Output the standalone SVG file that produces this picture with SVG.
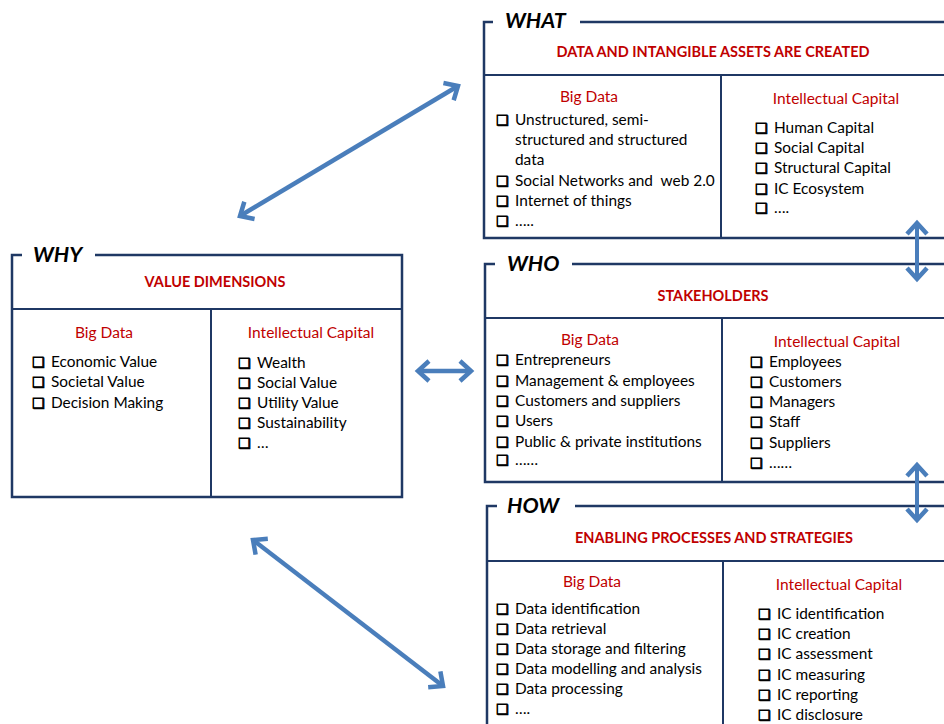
<svg xmlns="http://www.w3.org/2000/svg" width="944" height="724" viewBox="0 0 944 724">
<style>
.frame{fill:none;stroke:#1F3864;stroke-width:2.5}
.div{fill:none;stroke:#1F3864;stroke-width:2}
.lbl{font-family:Lato,"Liberation Sans",sans-serif;font-weight:bold;font-style:italic;font-size:21.5px;fill:#000}
.hdr{font-family:Lato,"Liberation Sans",sans-serif;font-weight:bold;font-size:14.5px;fill:#C00000;text-anchor:middle}
.sub{font-family:Lato,"Liberation Sans",sans-serif;font-size:15.5px;fill:#C00000;text-anchor:middle}
.it{font-family:Lato,"Liberation Sans",sans-serif;font-size:15.4px;fill:#000}
.cb{font-family:"DejaVu Sans",sans-serif;font-size:14px;fill:#000;stroke:#000;stroke-width:0.8}
.arr{fill:none;stroke:#4A7EBB;stroke-width:4.5;marker-start:url(#ah);marker-end:url(#ah)}
.arr2{fill:none;stroke:#4A7EBB;stroke-width:4;marker-start:url(#ah);marker-end:url(#ah)}
</style>
<defs>
<marker id="ah" markerUnits="userSpaceOnUse" viewBox="-20 -15 30 30" markerWidth="30" markerHeight="30" refX="0" refY="0" orient="auto-start-reverse">
<path d="M-11,-10 L0,0 L-11,10" fill="none" stroke="#4A7EBB" stroke-width="4.5" stroke-linejoin="miter"/>
</marker>
</defs>
<rect width="944" height="724" fill="#fff"/>

<g id="what">
<path class="frame" d="M493,22 H484 V238 H950 M580,22 H950"/>
<path class="div" d="M484,75 H950 M721,75 V238"/>
<text class="lbl" x="505" y="28">WHAT</text>
<text class="hdr" x="713" y="57">DATA AND INTANGIBLE ASSETS ARE CREATED</text>
<text class="sub" x="589" y="102">Big Data</text>
<text class="sub" x="836" y="104">Intellectual Capital</text>
<g class="cb"><text x="496" y="125">❑</text><text x="496" y="186">❑</text><text x="496" y="206">❑</text><text x="496" y="226">❑</text>
<text x="755" y="133">❑</text><text x="755" y="153">❑</text><text x="755" y="173">❑</text><text x="755" y="194">❑</text><text x="755" y="213">❑</text></g>
<g class="it"><text x="515" y="125">Unstructured, semi-</text><text x="515" y="145">structured and structured</text><text x="515" y="165">data</text><text x="515" y="186" xml:space="preserve">Social Networks and  web 2.0</text><text x="515" y="206">Internet of things</text><text x="515" y="226">…..</text>
<text x="774" y="133">Human Capital</text><text x="774" y="153">Social Capital</text><text x="774" y="173">Structural Capital</text><text x="774" y="194">IC Ecosystem</text><text x="774" y="213">….</text></g>
</g>

<g id="why">
<path class="frame" d="M22,255 H12 V497 H402 V255 H95"/>
<path class="div" d="M12,309 H402 M211,309 V497"/>
<text class="lbl" x="33" y="262">WHY</text>
<text class="hdr" x="215" y="287">VALUE DIMENSIONS</text>
<text class="sub" x="104" y="338">Big Data</text>
<text class="sub" x="311" y="338">Intellectual Capital</text>
<g class="cb"><text x="32" y="367">❑</text><text x="32" y="387">❑</text><text x="32" y="408">❑</text>
<text x="238" y="368">❑</text><text x="238" y="388">❑</text><text x="238" y="408">❑</text><text x="238" y="428">❑</text><text x="238" y="448">❑</text></g>
<g class="it"><text x="51" y="367">Economic Value</text><text x="51" y="387">Societal Value</text><text x="51" y="408">Decision Making</text>
<text x="257" y="368">Wealth</text><text x="257" y="388">Social Value</text><text x="257" y="408">Utility Value</text><text x="257" y="428">Sustainability</text><text x="257" y="448">…</text></g>
</g>

<g id="who">
<path class="frame" d="M495,264 H485 V482 H950 M572,264 H950"/>
<path class="div" d="M485,318 H950 M722,318 V482"/>
<text class="lbl" x="507" y="271">WHO</text>
<text class="hdr" x="713" y="301">STAKEHOLDERS</text>
<text class="sub" x="590" y="345">Big Data</text>
<text class="sub" x="837" y="347">Intellectual Capital</text>
<g class="cb"><text x="496" y="365">❑</text><text x="496" y="386">❑</text><text x="496" y="406">❑</text><text x="496" y="426">❑</text><text x="496" y="447">❑</text><text x="496" y="465">❑</text>
<text x="750" y="367">❑</text><text x="750" y="387">❑</text><text x="750" y="407">❑</text><text x="750" y="427">❑</text><text x="750" y="448">❑</text><text x="750" y="468">❑</text></g>
<g class="it"><text x="515" y="365">Entrepreneurs</text><text x="515" y="386">Management &amp; employees</text><text x="515" y="406">Customers and suppliers</text><text x="515" y="426">Users</text><text x="515" y="447">Public &amp; private institutions</text><text x="515" y="465">……</text>
<text x="769" y="367">Employees</text><text x="769" y="387">Customers</text><text x="769" y="407">Managers</text><text x="769" y="427">Staff</text><text x="769" y="448">Suppliers</text><text x="769" y="468">……</text></g>
</g>

<g id="how">
<path class="frame" d="M497,506 H487 V730 M575,506 H950"/>
<path class="div" d="M487,561 H950 M723,561 V730"/>
<text class="lbl" x="507" y="513">HOW</text>
<text class="hdr" x="714" y="543">ENABLING PROCESSES AND STRATEGIES</text>
<text class="sub" x="592" y="587">Big Data</text>
<text class="sub" x="839" y="590">Intellectual Capital</text>
<g class="cb"><text x="496" y="614">❑</text><text x="496" y="634">❑</text><text x="496" y="654">❑</text><text x="496" y="674">❑</text><text x="496" y="694">❑</text><text x="496" y="714">❑</text>
<text x="758" y="619">❑</text><text x="758" y="639">❑</text><text x="758" y="659">❑</text><text x="758" y="680">❑</text><text x="758" y="700">❑</text><text x="758" y="720">❑</text></g>
<g class="it"><text x="515" y="614">Data identification</text><text x="515" y="634">Data retrieval</text><text x="515" y="654">Data storage and filtering</text><text x="515" y="674">Data modelling and analysis</text><text x="515" y="694">Data processing</text><text x="515" y="714">….</text>
<text x="777" y="619">IC identification</text><text x="777" y="639">IC creation</text><text x="777" y="659">IC assessment</text><text x="777" y="680">IC measuring</text><text x="777" y="700">IC reporting</text><text x="777" y="720">IC disclosure</text></g>
</g>

<g id="connectors">
<path class="arr" d="M240,216 L458,86"/>
<path class="arr" d="M253,540 L443,686"/>
<path class="arr" d="M418,371 L471,371"/>
<path class="arr2" d="M917,223 V279"/>
<path class="arr2" d="M917,465 V520"/>
</g>
</svg>
